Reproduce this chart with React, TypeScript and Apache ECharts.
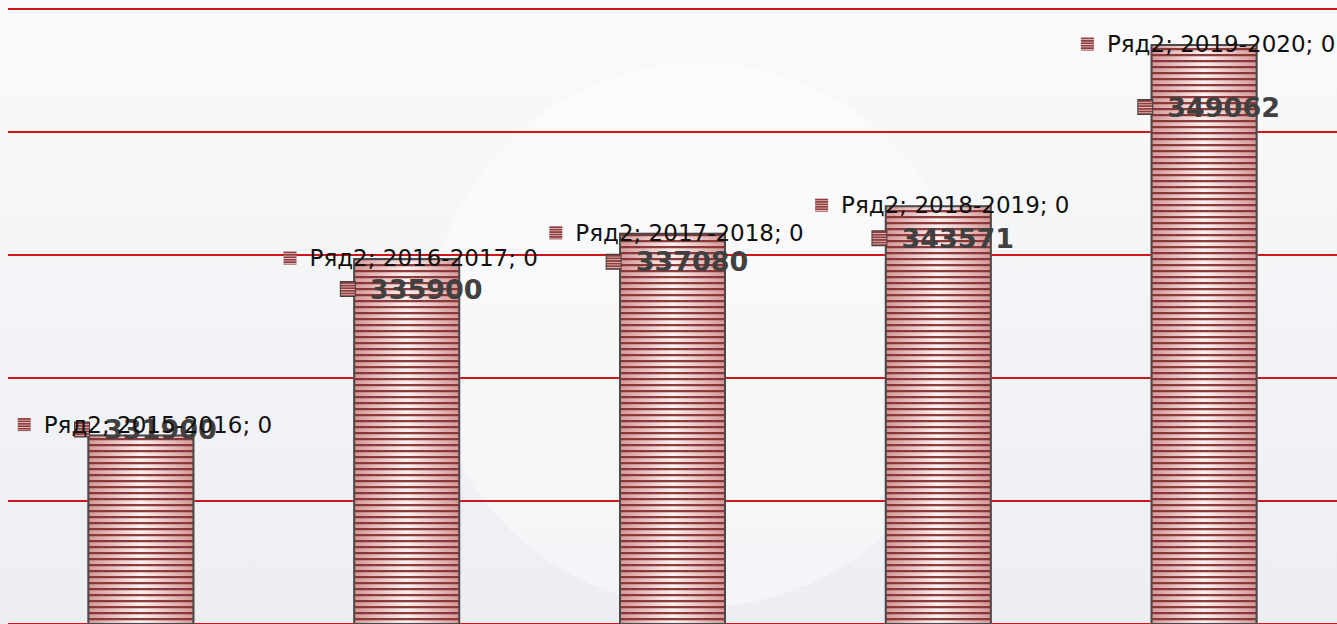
import React, { useEffect, useRef } from "react";
import * as echarts from "echarts";

// ---- data ----
const categories = ["2015-2016", "2016-2017", "2017-2018", "2018-2019", "2019-2020"];
const series1Name = "Ряд1";
const series2Name = "Ряд2";
// bar heights as drawn in the picture (axis units)
const series1Values = [315400, 329750, 331800, 334050, 347150];
// data label texts as printed on the picture
const series1LabelTexts = ["331900", "335900", "337080", "343571", "349062"];
const series2Values = [0, 0, 0, 0, 0];
const yMin = 300000;
const yMax = 350000;
const yInterval = 10000;

// ---- layout (px) ----
const valueLabelY = [-5, 31, 29, 33, 63];
const series2LabelDY = [-10, 0, 0, 0, 0];

function makeStripeTile(): string {
  const c = document.createElement("canvas");
  c.width = 4;
  c.height = 6;
  const ctx = c.getContext("2d")!;
  ctx.clearRect(0, 0, 4, 6);
  ctx.fillStyle = "rgba(136,50,50,0.95)";
  ctx.fillRect(0, 0, 4, 2);
  ctx.fillStyle = "rgba(136,50,50,0.25)";
  ctx.fillRect(0, 2, 4, 1);
  return c.toDataURL();
}

function makeMarker(size: number): string {
  const c = document.createElement("canvas");
  c.width = size;
  c.height = size;
  const ctx = c.getContext("2d")!;
  ctx.fillStyle = "#e6c0c0";
  ctx.fillRect(0, 0, size, size);
  ctx.fillStyle = "#8e3e3e";
  for (let y = 0; y < size; y += 3) ctx.fillRect(0, y, size, 2);
  return c.toDataURL();
}

export default function App() {
  const ref = useRef<HTMLDivElement>(null);
  useEffect(() => {
    document.body.style.margin = "0";
    const chart = echarts.init(ref.current!, undefined, { renderer: "svg" });
    const stripe = makeStripeTile();
    const marker = makeMarker(16);

    const gradient = new echarts.graphic.LinearGradient(0, 0, 1, 0, [
      { offset: 0, color: "#d49696" },
      { offset: 0.5, color: "#fbf1f1" },
      { offset: 1, color: "#d49696" },
    ]);

    const option: any = {
      animation: false,
      backgroundColor: new echarts.graphic.LinearGradient(0, 0, 0, 1, [
        { offset: 0, color: "#fafafb" },
        { offset: 1, color: "#eceef2" },
      ]),
      graphic: [
        {
          type: "circle",
          shape: { cx: 700, cy: 335, r: 272 },
          style: { fill: "rgba(255,255,255,0.4)" },
          z: -10,
          silent: true,
        },
      ],
      grid: { left: 8, right: -2, top: 9, bottom: 0, containLabel: false },
      xAxis: {
        type: "category",
        data: categories,
        axisLine: { show: false },
        axisTick: { show: false },
        axisLabel: { show: false },
        splitLine: { show: false },
      },
      yAxis: {
        type: "value",
        min: yMin,
        max: yMax,
        interval: yInterval,
        axisLine: { show: false },
        axisTick: { show: false },
        axisLabel: { show: false },
        splitLine: { show: true, lineStyle: { color: "#d0161c", width: 2 } },
      },
      series: [
        {
          name: "shade",
          type: "bar",
          stack: "shade",
          barWidth: 107,
          barGap: "-100%",
          data: series1Values,
          itemStyle: { color: gradient },
          silent: true,
          z: 2,
        },
        {
          name: series1Name,
          type: "bar",
          stack: "main",
          barWidth: 107,
          barGap: "-100%",
          z: 3,
          itemStyle: {
            color: { image: stripe, repeat: "repeat", imageWidth: 4, imageHeight: 6 },
            borderColor: "#4a4a4a",
            borderWidth: 2,
          },
          data: series1Values.map((v, i) => ({
            value: v,
            label: { position: ["50%", valueLabelY[i]] },
          })),
          label: {
            show: true,
            align: "center",
            verticalAlign: "middle",
            offset: [5, 0],
            formatter: (p: any) => `{m|}{v|${series1LabelTexts[p.dataIndex]}}`,
            rich: {
              m: {
                width: 14,
                height: 14,
                backgroundColor: { image: marker },
                borderColor: "#404040",
                borderWidth: 2,
              },
              v: {
                fontFamily: "DejaVu Sans",
                fontWeight: "bold",
                fontSize: 27,
                color: "#404040",
                padding: [0, 0, 0, 15],
              },
            },
          },
        },
        {
          name: series2Name,
          type: "bar",
          stack: "main",
          barWidth: 107,
          barGap: "-100%",
          z: 4,
          itemStyle: { color: "transparent" },
          data: series2Values.map((v, i) => ({
            value: v,
            label: { offset: [4, series2LabelDY[i]] },
          })),
          label: {
            show: true,
            position: ["50%", 0],
            align: "center",
            verticalAlign: "middle",
            formatter: (p: any) => `{m|}{t|${p.seriesName}; ${p.name}; ${p.value}}`,
            rich: {
              m: {
                width: 13,
                height: 13,
                backgroundColor: { image: marker },
              },
              t: {
                fontFamily: "DejaVu Sans",
                fontSize: 23,
                color: "#111111",
                padding: [0, 0, 0, 13],
              },
            },
          },
        },
      ],
    };
    chart.setOption(option);
    return () => chart.dispose();
  }, []);
  return <div ref={ref} style={{ width: 1337, height: 624 }} />;
}
